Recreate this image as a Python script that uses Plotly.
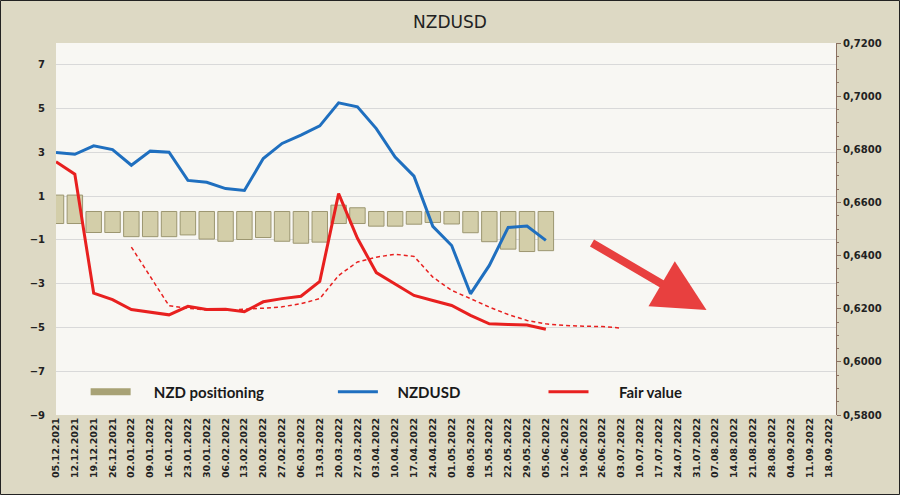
import plotly.graph_objects as go

# weekly dates shown on the x axis
dates = [
    "05.12.2021", "12.12.2021", "19.12.2021", "26.12.2021",
    "02.01.2022", "09.01.2022", "16.01.2022", "23.01.2022", "30.01.2022",
    "06.02.2022", "13.02.2022", "20.02.2022", "27.02.2022",
    "06.03.2022", "13.03.2022", "20.03.2022", "27.03.2022",
    "03.04.2022", "10.04.2022", "17.04.2022", "24.04.2022",
    "01.05.2022", "08.05.2022", "15.05.2022", "22.05.2022", "29.05.2022",
    "05.06.2022", "12.06.2022", "19.06.2022", "26.06.2022",
    "03.07.2022", "10.07.2022", "17.07.2022", "24.07.2022", "31.07.2022",
    "07.08.2022", "14.08.2022", "21.08.2022", "28.08.2022",
    "04.09.2022", "11.09.2022", "18.09.2022",
]

# NZD positioning (left axis)
positioning = [1.05, 1.05, -0.66, -0.66, -0.85, -0.85, -0.85, -0.77, -0.96,
               -1.06, -0.98, -0.89, -1.06, -1.15, -1.10, 0.59, 0.47, -0.37,
               -0.37, -0.28, -0.20, -0.27, -0.67, -1.08, -1.42, -1.53, -1.49]

# NZDUSD price (right axis)
nzdusd = [0.6788, 0.6781, 0.6813, 0.6799, 0.6740, 0.6793, 0.6789, 0.6683, 0.6676,
          0.6652, 0.6645, 0.6765, 0.6822, 0.6853, 0.6888, 0.6975, 0.6960, 0.6878,
          0.6771, 0.6699, 0.6510, 0.6438, 0.6256, 0.6363, 0.6506, 0.6511, 0.6457]

# fair value (right axis)
fair_value = [0.6753, 0.6706, 0.6259, 0.6234, 0.6197, 0.6186, 0.6177, 0.6209, 0.6197,
              0.6198, 0.6189, 0.6226, 0.6238, 0.6247, 0.6303, 0.6633, 0.6465, 0.6336,
              0.6294, 0.6250, 0.6231, 0.6212, 0.6175, 0.6143, 0.6141, 0.6139, 0.6123]

# smoothed fair value, starts at 02.01.2022
trend_start = 4
fair_trend = [0.6432, 0.6322, 0.6211, 0.6202, 0.6195, 0.6194, 0.6197, 0.6202, 0.6207,
              0.6219, 0.6238, 0.6325, 0.6376, 0.6394, 0.6405, 0.6397, 0.6319, 0.6269,
              0.6238, 0.6206, 0.6178, 0.6156, 0.6143, 0.6137, 0.6134, 0.6133, 0.6127]

left_ticks = [-9, -7, -5, -3, -1, 1, 3, 5, 7]
right_ticks = [0.58, 0.60, 0.62, 0.64, 0.66, 0.68, 0.70, 0.72]

BLUE = "#1F6FBF"
RED = "#E8201F"
KHAKI = "#D3CEA9"
NBSP = "\u00a0"

idx = list(range(len(dates)))

fig = go.Figure()

# bars look like floating blocks in the source, hanging a bit past zero
bar_base = [-0.25 if v > 0 else 0.3 for v in positioning]
fig.add_trace(go.Bar(
    x=idx[:len(positioning)], y=[v - b for v, b in zip(positioning, bar_base)],
    base=bar_base, width=0.82,
    marker=dict(color=KHAKI, line=dict(color="#9C9670", width=1)),
    showlegend=False, yaxis="y",
))

fig.add_trace(go.Scatter(
    x=idx[trend_start:trend_start + len(fair_trend)], y=fair_trend, mode="lines",
    line=dict(color=RED, width=1.5, dash="4px,3px"),
    showlegend=False, yaxis="y2",
))
fig.add_trace(go.Scatter(
    x=idx[:len(fair_value)], y=fair_value, mode="lines",
    line=dict(color=RED, width=3), showlegend=False, yaxis="y2",
))
fig.add_trace(go.Scatter(
    x=idx[:len(nzdusd)], y=nzdusd, mode="lines",
    line=dict(color=BLUE, width=3), showlegend=False, yaxis="y2",
))

# legend entries
fig.add_trace(go.Scatter(x=[None], y=[None], mode="lines",
                         name=NBSP * 5 + "NZD positioning",
                         line=dict(color="#A8A275", width=7), legend="legend"))
fig.add_trace(go.Scatter(x=[None], y=[None], mode="lines", name=NBSP * 4 + "NZDUSD",
                         line=dict(color=BLUE, width=3), legend="legend2"))
fig.add_trace(go.Scatter(x=[None], y=[None], mode="lines", name=NBSP * 7 + "Fair value",
                         line=dict(color=RED, width=3), legend="legend3"))

legend_style = dict(orientation="h", yanchor="middle", y=0.062, xanchor="left",
                    bgcolor="rgba(0,0,0,0)", itemwidth=40,
                    font=dict(family="Lato", size=15, color="#1a1a1a", weight="bold"))

tick_font = dict(family="DejaVu Sans", size=10, color="#222222", weight="bold")

fig.update_layout(
    width=900, height=495,
    margin=dict(l=56, r=64, t=43, b=80, autoexpand=False),
    paper_bgcolor="#DDD9C4",
    plot_bgcolor="#F8F7F3",
    title=dict(text="NZDUSD", x=0.5, xanchor="center", y=0.955, yanchor="middle",
               font=dict(family="DejaVu Sans", size=17, color="#222222")),
    xaxis=dict(range=[0, 41.4], tickvals=idx, ticktext=dates, tickangle=-90,
               showgrid=False, zeroline=False, ticks="", automargin=False,
               tickfont=dict(family="DejaVu Sans", size=9.5, color="#222222",
                             weight="bold")),
    yaxis=dict(range=[-9, 8], tickvals=left_ticks, showgrid=True, gridcolor="#D9D9D9",
               gridwidth=1, zeroline=False, ticks="outside", ticklen=8,
               tickcolor="rgba(0,0,0,0)", automargin=False, tickfont=tick_font),
    yaxis2=dict(range=[0.58, 0.72], tickvals=right_ticks, tickformat=".4f",
                overlaying="y", side="right", showgrid=False, zeroline=False,
                showline=True, linecolor="#8A7060", linewidth=1, automargin=False,
                ticks="outside", ticklen=4, tickcolor="#8A7060",
                minor=dict(dtick=0.005, ticks="outside", ticklen=2, tickcolor="#8A7060"),
                tickfont=tick_font),
    separators=",.",
    legend=dict(x=0.038, **legend_style),
    legend2=dict(x=0.355, **legend_style),
    legend3=dict(x=0.625, **legend_style),
    shapes=[dict(type="rect", xref="paper", yref="paper",
                 x0=-55.5 / 780, x1=1 + 63.5 / 780, y0=-79.5 / 372, y1=1 + 42.5 / 372,
                 line=dict(color="#222222", width=1))],
    annotations=[dict(x=0.834, y=0.282, xref="paper", yref="paper", text="",
                      showarrow=True, ax=-116, ay=-68, arrowhead=2, arrowsize=1.3,
                      arrowwidth=8, arrowcolor="#E8403F", standoff=0)],
)

# drop the default 8px page margin so the figure fills the window
fig.write_html("out.html", config={"displayModeBar": False},
               post_script="document.body.style.margin='0';")
